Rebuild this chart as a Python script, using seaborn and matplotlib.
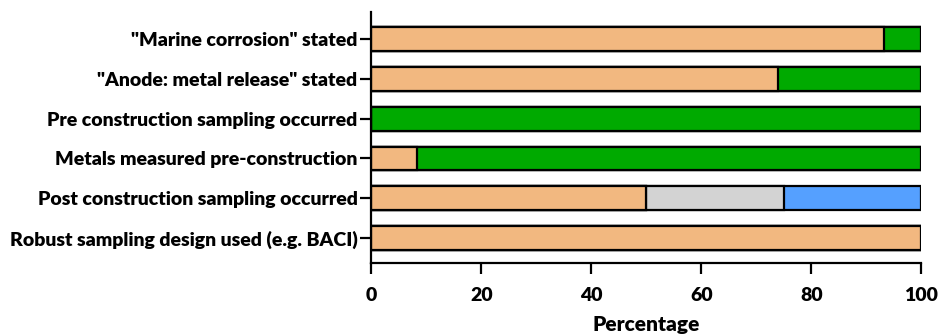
import numpy as np
import pandas as pd
import matplotlib
matplotlib.use("Agg")
import matplotlib.pyplot as plt
import seaborn as sns

# questions (top to bottom) and percentage of studies in each answer group
questions = ['"Marine corrosion" stated',
             '"Anode: metal release" stated',
             'Pre construction sampling occurred',
             'Metals measured pre-construction',
             'Post construction sampling occurred',
             'Robust sampling design used (e.g. BACI)']
no_pct      = [93.3, 74.0, 0.0, 8.3, 50.0, 100.0]
yes_pct     = [6.7, 26.0, 100.0, 91.7, 0.0, 0.0]
unclear_pct = [0.0, 0.0, 0.0, 0.0, 25.0, 0.0]
other_pct   = [0.0, 0.0, 0.0, 0.0, 25.0, 0.0]

colours = ["#F2B880", "#00AA00", "#D3D3D3", "#55A0FF"]

df = pd.DataFrame({"question": questions, "No": no_pct, "Yes": yes_pct,
                   "Unclear": unclear_pct, "Other": other_pct})
# cumulative sums so each layer can be drawn on top of the previous one
cols = ["No", "Yes", "Unclear", "Other"]
cum = df[cols].cumsum(axis=1)

sns.set_style("ticks")
plt.rcParams['font.family'] = ['Lato', 'DejaVu Sans']
plt.rcParams['font.weight'] = 'bold'
plt.rcParams['text.color'] = 'black'
plt.rcParams['xtick.color'] = 'black'
plt.rcParams['ytick.color'] = 'black'
plt.rcParams['axes.labelcolor'] = 'black'
plt.rcParams['axes.edgecolor'] = 'black'

fig = plt.figure(figsize=(9.4, 3.36), dpi=100)
ax = fig.add_axes([0.395, 0.217, 0.585, 0.747])

for i in range(len(cols) - 1, -1, -1):
    sns.barplot(x=cum[cols[i]], y=df["question"], color=colours[i],
                edgecolor="black", linewidth=1.6, width=0.6,
                saturation=1, orient="h", ax=ax)

ax.set_xlim(0, 100)
ax.set_ylim(5.63, -0.68)
ax.set_xticks([0, 20, 40, 60, 80, 100])
ax.set_xlabel("Percentage", fontsize=15, fontweight="heavy", labelpad=8)
ax.set_ylabel("")
ax.tick_params(axis="both", labelsize=14, width=1.6, length=8)
ax.tick_params(axis="x", pad=9)
ax.tick_params(axis="y", pad=2)
for lbl in ax.get_xticklabels() + ax.get_yticklabels():
    lbl.set_fontweight("heavy")
sns.despine(ax=ax)
ax.spines["left"].set_linewidth(1.6)
ax.spines["bottom"].set_linewidth(1.6)

plt.savefig("out.png", dpi=100)
